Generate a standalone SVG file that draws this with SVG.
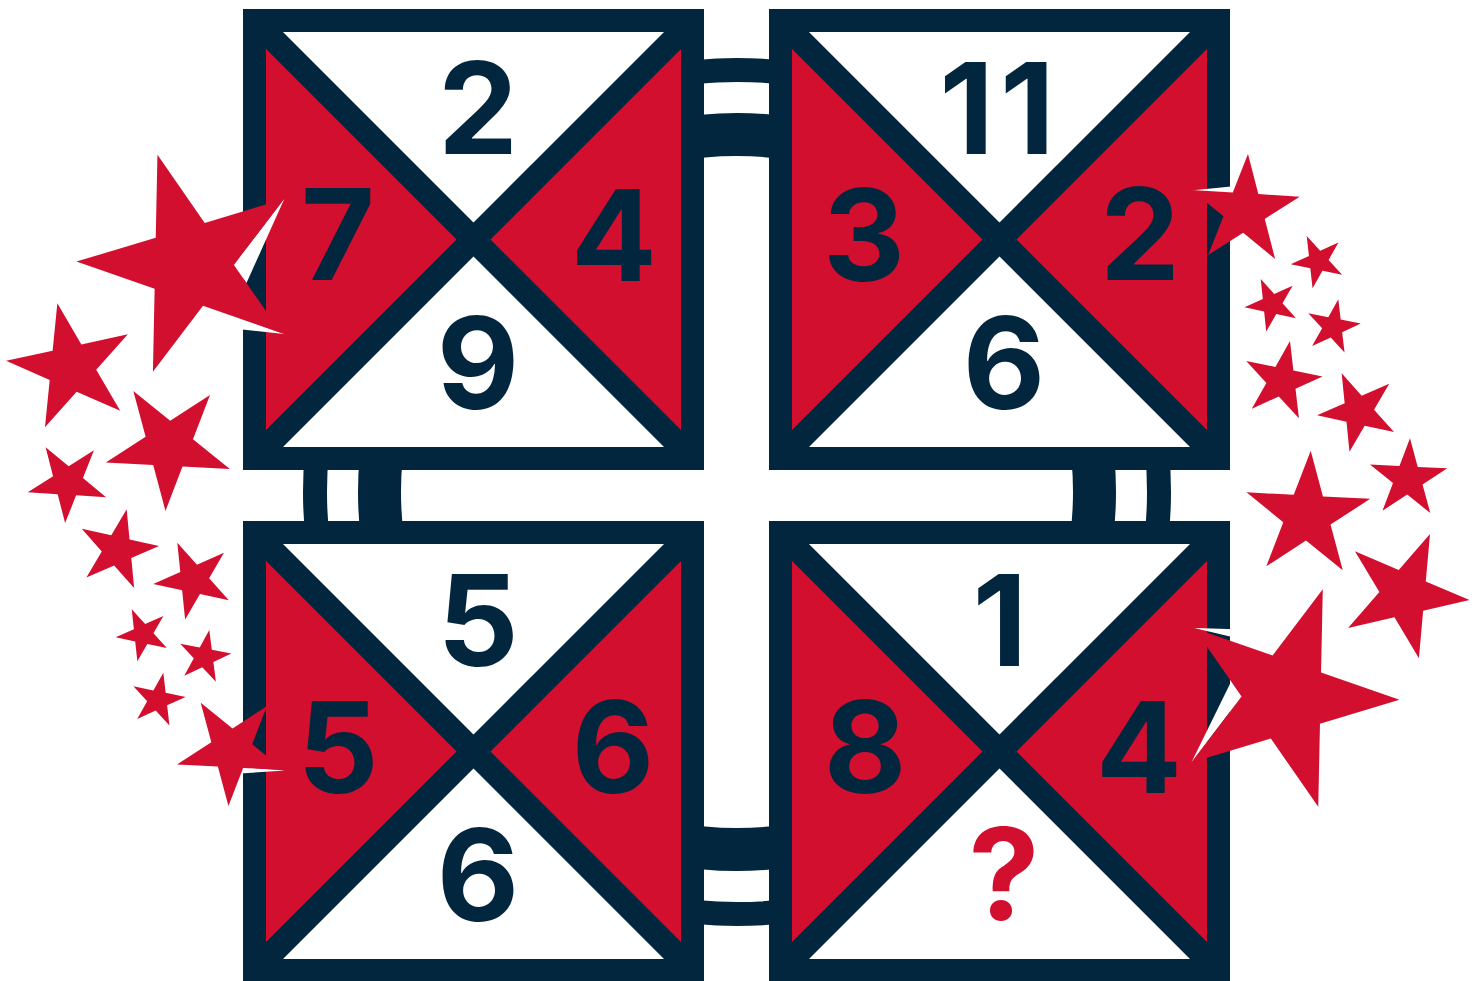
<svg xmlns="http://www.w3.org/2000/svg" xmlns:xlink="http://www.w3.org/1999/xlink" width="1483" height="981" viewBox="0 0 1483 981">
<style>
.red{fill:#d20f2e}
.frame{fill:none;stroke:#03263f;stroke-width:23}
.diag{fill:none;stroke:#03263f;stroke-width:24}
.ring{fill:none;stroke:#03263f}
.num{font-family:Inter,"Liberation Sans",sans-serif;font-weight:700;font-size:127px;fill:#03263f;text-anchor:middle}
.q{fill:#d20f2e}
.stars{fill:#d20f2e}
.sliver{fill:#ffffff}
</style>
<defs>
<polygon id="star" points="0,-100 22.45,-30.9 95.11,-30.9 36.33,11.8 58.78,80.9 0,38.2 -58.78,80.9 -36.33,11.8 -95.11,-30.9 -22.45,-30.9"/>
</defs>
<rect width="1483" height="981" fill="#ffffff"/>
<g id="connectors">
<circle class="ring" cx="737" cy="492" r="422" stroke-width="24"/>
<circle class="ring" cx="737" cy="492" r="357.5" stroke-width="43"/>
</g>
<g id="square-top-left">
<rect x="254.5" y="20.5" width="438" height="438" fill="#ffffff"/>
<polygon class="red" points="254.5,20.5 473.5,239.5 254.5,458.5"/>
<polygon class="red" points="692.5,20.5 473.5,239.5 692.5,458.5"/>
<path class="diag" d="M254.5,20.5 L692.5,458.5 M692.5,20.5 L254.5,458.5"/>
<rect class="frame" x="254.5" y="20.5" width="438" height="438"/>
<text class="num" x="478" y="154">2</text>
<text class="num" x="338" y="280">7</text>
<text class="num" x="614" y="281">4</text>
<text class="num" x="478" y="409">9</text>
</g>
<g id="square-top-right">
<rect x="780.5" y="20.5" width="438" height="438" fill="#ffffff"/>
<polygon class="red" points="780.5,20.5 999.5,239.5 780.5,458.5"/>
<polygon class="red" points="1218.5,20.5 999.5,239.5 1218.5,458.5"/>
<path class="diag" d="M780.5,20.5 L1218.5,458.5 M1218.5,20.5 L780.5,458.5"/>
<rect class="frame" x="780.5" y="20.5" width="438" height="438"/>
<text class="num" x="1000" y="154" letter-spacing="6">11</text>
<text class="num" x="864" y="281">3</text>
<text class="num" x="1140" y="280">2</text>
<text class="num" x="1004" y="409">6</text>
</g>
<g id="square-bottom-left">
<rect x="254.5" y="532.5" width="438" height="438" fill="#ffffff"/>
<polygon class="red" points="254.5,532.5 473.5,751.5 254.5,970.5"/>
<polygon class="red" points="692.5,532.5 473.5,751.5 692.5,970.5"/>
<path class="diag" d="M254.5,532.5 L692.5,970.5 M692.5,532.5 L254.5,970.5"/>
<rect class="frame" x="254.5" y="532.5" width="438" height="438"/>
<text class="num" x="478" y="666">5</text>
<text class="num" x="338" y="793">5</text>
<text class="num" x="613" y="793">6</text>
<text class="num" x="478" y="921">6</text>
</g>
<g id="square-bottom-right">
<rect x="780.5" y="532.5" width="438" height="438" fill="#ffffff"/>
<polygon class="red" points="780.5,532.5 999.5,751.5 780.5,970.5"/>
<polygon class="red" points="1218.5,532.5 999.5,751.5 1218.5,970.5"/>
<path class="diag" d="M780.5,532.5 L1218.5,970.5 M1218.5,532.5 L780.5,970.5"/>
<rect class="frame" x="780.5" y="532.5" width="438" height="438"/>
<text class="num" x="1000" y="666">1</text>
<text class="num" x="865" y="793">8</text>
<text class="num" x="1139" y="793">4</text>
<text class="num q" x="1004" y="920">?</text>
</g>
<g id="slivers" class="sliver">
<polygon points="284.5,198.5 233,265.5 246.5,283"/>
<polygon points="240,318 284,334 240,329.3"/>
<polygon points="1191,190.5 1236,186 1236,194"/>
<polygon points="240,767 285,770.5 240,773.5"/>
<polygon points="1194,628 1245,629.5 1245,640"/>
<polygon points="1191.4,762.5 1242,696 1231.4,681"/>
</g>
<g id="stars" class="stars">
<use xlink:href="#star" transform="translate(190.4,264) rotate(-16.8) scale(1.14)"/>
<use xlink:href="#star" transform="translate(71.3,367.3) rotate(-12.3) scale(0.655)"/>
<use xlink:href="#star" transform="translate(168.9,445.7) rotate(-33) scale(0.653)"/>
<use xlink:href="#star" transform="translate(67.7,482) rotate(-32.4) scale(0.412)"/>
<use xlink:href="#star" transform="translate(117.6,549.9) rotate(12.6) scale(0.416)"/>
<use xlink:href="#star" transform="translate(193.7,579.8) rotate(-23.8) scale(0.406)"/>
<use xlink:href="#star" transform="translate(143,634.4) rotate(-24.2) scale(0.275)"/>
<use xlink:href="#star" transform="translate(204.2,656.9) rotate(10.7) scale(0.274)"/>
<use xlink:href="#star" transform="translate(157.8,700.1) rotate(11.4) scale(0.28)"/>
<use xlink:href="#star" transform="translate(231.4,749.9) rotate(-33) scale(0.563)"/>
<use xlink:href="#star" transform="translate(1244.5,210.9) rotate(3.5) scale(0.57)"/>
<use xlink:href="#star" transform="translate(1318.1,261.1) rotate(-24.4) scale(0.276)"/>
<use xlink:href="#star" transform="translate(1272,304.3) rotate(-24) scale(0.277)"/>
<use xlink:href="#star" transform="translate(1332.8,326.9) rotate(11.3) scale(0.281)"/>
<use xlink:href="#star" transform="translate(1281.9,381.1) rotate(11.4) scale(0.409)"/>
<use xlink:href="#star" transform="translate(1358.3,411.2) rotate(-23.7) scale(0.414)"/>
<use xlink:href="#star" transform="translate(1408,479) rotate(2.8) scale(0.407)"/>
<use xlink:href="#star" transform="translate(1307.3,515.7) rotate(3) scale(0.651)"/>
<use xlink:href="#star" transform="translate(1404.3,594.3) rotate(23.1) scale(0.655)"/>
<use xlink:href="#star" transform="translate(1285.2,697.3) rotate(19.2) scale(1.143)"/>
</g>
</svg>
